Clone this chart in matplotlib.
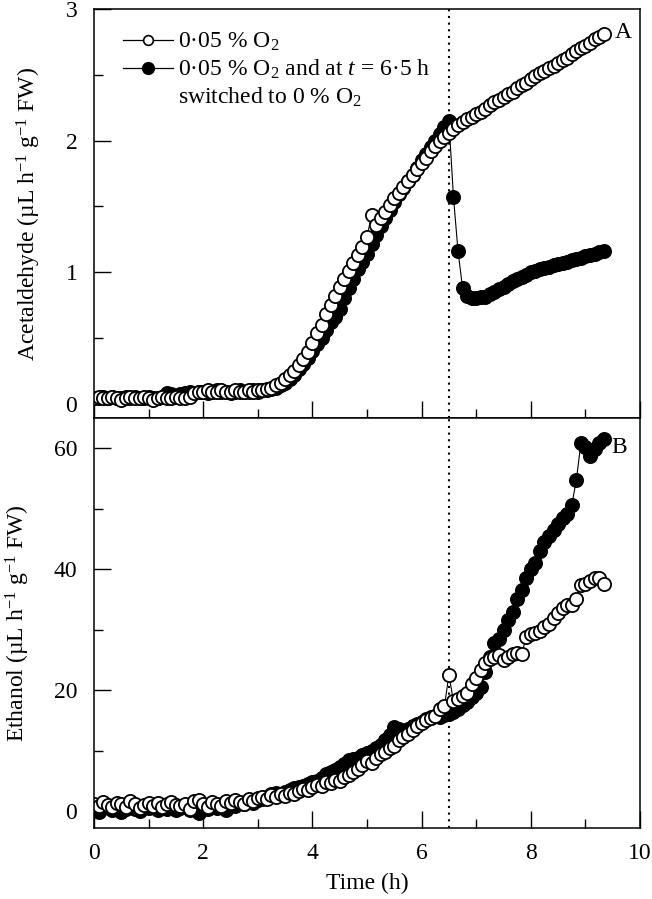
import numpy as np
import matplotlib
matplotlib.use("Agg")
import matplotlib.pyplot as plt
from matplotlib.lines import Line2D
from matplotlib.ticker import MultipleLocator

plt.rcParams['font.family'] = ['Liberation Serif', 'DejaVu Serif']
plt.rcParams['mathtext.fontset'] = 'custom'
plt.rcParams['mathtext.rm'] = 'Liberation Serif'
plt.rcParams['mathtext.it'] = 'Liberation Serif:italic'
plt.rcParams['font.size'] = 17

# readings every 5 min, 0 - 9.33 h
time_h = np.arange(113) * 5 / 60
switch_t = 6.5

# A: acetaldehyde, 0.05 % O2
acet_open = [
    0.04, 0.05, 0.04, 0.04, 0.05, 0.04, 0.03, 0.04, 0.05, 0.04, 0.04, 0.05,
    0.04, 0.03, 0.04, 0.05, 0.04, 0.04, 0.05, 0.04, 0.04, 0.05,
    0.08, 0.09, 0.09, 0.10, 0.09, 0.09, 0.10, 0.09, 0.09, 0.10, 0.09, 0.09,
    0.10, 0.09, 0.10, 0.10,
    0.11, 0.12, 0.14, 0.16, 0.19, 0.22, 0.25, 0.29, 0.34, 0.39,
    0.46, 0.54, 0.60, 0.68, 0.75, 0.82, 0.89, 0.95, 1.01, 1.07, 1.13, 1.19,
    1.27, 1.43, 1.36, 1.41, 1.46, 1.51, 1.56, 1.60, 1.65, 1.69, 1.74, 1.78,
    1.83, 1.87, 1.92, 1.96, 2.00, 2.03, 2.06,
    2.09, 2.12, 2.14, 2.16, 2.18, 2.20, 2.22, 2.24, 2.27, 2.29, 2.31, 2.33,
    2.35, 2.37, 2.40, 2.42, 2.44, 2.47, 2.49, 2.51, 2.53, 2.55, 2.57, 2.59,
    2.61, 2.63, 2.66, 2.68, 2.70, 2.72, 2.74, 2.77, 2.79, 2.81,
]
# A: acetaldehyde, switched to 0 % O2 at 6.5 h
acet_filled = [
    0.04, 0.04, 0.05, 0.04, 0.05, 0.04, 0.04, 0.05, 0.04, 0.05, 0.04, 0.04,
    0.05, 0.04, 0.04, 0.05, 0.08, 0.07,
    0.06, 0.07, 0.08, 0.09, 0.08, 0.09, 0.09, 0.08, 0.09, 0.10, 0.09, 0.09,
    0.08, 0.09, 0.10, 0.09, 0.09, 0.10, 0.09, 0.10,
    0.10, 0.11, 0.12, 0.14, 0.16, 0.19, 0.22, 0.26, 0.30, 0.35,
    0.40, 0.45, 0.50, 0.56, 0.62, 0.66, 0.72, 0.80, 0.88, 0.95, 1.02, 1.08,
    1.14, 1.21, 1.28, 1.35, 1.41, 1.47, 1.53, 1.59, 1.64, 1.69, 1.74, 1.79,
    1.85, 1.90, 1.95, 2.00, 2.05, 2.10, 2.15,
    1.57, 1.16, 0.88, 0.82, 0.80, 0.80, 0.81, 0.81, 0.83, 0.85, 0.87, 0.89,
    0.91, 0.93, 0.95, 0.96, 0.98, 1.00, 1.01, 1.02, 1.03, 1.04, 1.05, 1.06,
    1.07, 1.08, 1.09, 1.10, 1.11, 1.12, 1.13, 1.14, 1.15, 1.16,
]

# B: ethanol, 0.05 % O2
eth_open = [
    1.2, 0.8, 1.5, 1.0, 0.6, 1.3, 1.1, 0.7, 1.6, 1.2, 0.5, 1.0, 1.4, 0.9,
    1.3, 0.6, 1.1, 1.5, 1.0, 0.8, 1.2, 0.4, 1.7, 1.9, 1.1, 0.7, 1.5, 1.2,
    0.9, 1.6, 1.3, 1.8, 1.5, 1.2, 2.0, 1.7, 2.1,
    2.3, 2.0, 2.6, 2.4, 2.8, 2.5, 3.0, 2.8, 3.3, 3.6, 3.5, 4.0, 4.3, 4.1,
    4.8, 4.6, 5.2, 5.0, 5.6, 6.0, 6.5, 7.0, 7.6, 8.2, 8.0, 8.8, 9.5, 9.8,
    10.4, 10.8, 11.8, 12.3, 12.8, 13.4, 14.0, 14.6, 15.0, 15.4, 15.8, 16.8,
    17.3, 22.5,
    18.2, 18.5, 19.0, 19.5, 21.0, 22.0, 23.3, 24.5, 25.2, 25.5, 25.8, 25.0,
    25.5, 26.0, 26.2, 26.0, 28.8, 29.2, 29.5, 29.8, 30.5, 31.0, 32.0, 32.8,
    33.5, 34.0, 34.0, 35.0, 37.4, 37.5, 38.0, 38.5, 38.6, 37.6,
]
# B: ethanol, switched to 0 % O2 at 6.5 h
eth_filled = [
    0.3, -0.2, 0.5, 0.8, 0.2, 0.6, -0.1, 0.4, 0.9, 0.3, 0.0, 0.7, 0.5, 1.0,
    0.2, 0.6, 0.4, 0.9, 0.1, 0.5, 0.8, 0.2, 0.6, -0.3, 0.4, 0.3, 0.9, 0.5,
    0.7, 0.2, 1.0, 0.8, 1.4, 1.1, 1.6, 1.3, 1.8,
    2.0, 2.4, 2.8, 3.0, 2.7, 3.2, 3.4, 3.8, 4.0, 4.2, 4.4, 4.8, 5.0, 5.5,
    6.2, 6.4, 6.8, 7.3, 7.8, 8.4, 8.6, 8.8, 9.3, 9.6, 10.0, 10.4, 11.0, 11.8,
    12.6, 13.9, 13.5, 13.2, 13.6, 14.0, 14.4, 14.8, 15.2, 15.5, 15.8, 15.6,
    15.9, 16.0,
    16.3, 16.8, 17.5, 18.0, 18.8, 19.5, 20.5, 23.0, 25.5, 27.8, 28.5, 30.0,
    31.6, 33.0, 35.0, 36.5, 38.5, 40.0, 41.0, 43.0, 44.5, 45.5, 46.5, 47.5,
    48.5, 49.2, 50.6, 54.7, 60.8, 60.2, 58.8, 59.8, 60.8, 61.5,
]

open_style = dict(color='black', lw=0.8, marker='o', ms=9.5, mfc='white',
                  mec='black', mew=1.3)
filled_style = dict(color='black', lw=0.8, marker='o', ms=9.5, mfc='black',
                    mec='black', mew=1.3)

fig = plt.figure(figsize=(6.52, 8.99), dpi=100)
ax1 = fig.add_axes([0.1442, 0.535, 0.8374, 0.455])
ax2 = fig.add_axes([0.1442, 0.079, 0.8374, 0.456])

ax1.plot(time_h, acet_filled, **filled_style)
ax1.plot(time_h, acet_open, **open_style)
ax2.plot(time_h, eth_filled, **filled_style)
ax2.plot(time_h, eth_open, **open_style)

for ax in (ax1, ax2):
    ax.axvline(switch_t, color='black', lw=1.5, ls=(0, (1, 2.2)), zorder=0)
    ax.set_xlim(0, 10)
    ax.xaxis.set_major_locator(MultipleLocator(2))
    ax.xaxis.set_minor_locator(MultipleLocator(1))
    ax.tick_params(which='both', direction='in', width=1, top=False, right=False)
    ax.tick_params(which='major', length=12)
    ax.tick_params(which='minor', length=6.5)
    ax.tick_params(axis='x', pad=11)
    ax.tick_params(axis='y', pad=12)
    for s in ax.spines.values():
        s.set_linewidth(1.1)

ax1.set_ylim(-0.11, 3.0)
ax1.yaxis.set_major_locator(MultipleLocator(1))
ax1.yaxis.set_minor_locator(MultipleLocator(0.5))
ax1.tick_params(axis='x', labelbottom=False)
ax1.set_ylabel('Acetaldehyde (µL h$^{-1}$ g$^{-1}$ FW)', labelpad=16)
ax1.text(9.69, 2.82, 'A', ha='center', va='center')

ax2.set_ylim(-2.8, 65)
ax2.yaxis.set_major_locator(MultipleLocator(20))
ax2.yaxis.set_minor_locator(MultipleLocator(10))
ax2.set_ylabel('Ethanol (µL h$^{-1}$ g$^{-1}$ FW)', labelpad=16)
ax2.set_xlabel('Time (h)', labelpad=6)
ax2.text(9.62, 60.2, 'B', ha='center', va='center')

# legend: third row is the wrapped text of the second entry
h_open = Line2D([], [], color='black', lw=0.9, marker='o', ms=7, mfc='white',
                mec='black', mew=1.2)
h_filled = Line2D([], [], color='black', lw=0.9, marker='o', ms=8.5,
                  mfc='black', mec='black')
h_blank = Line2D([], [], linestyle='none', marker='none')
ax1.legend([h_open, h_filled, h_blank],
           ['0·05 % O$_2$', '0·05 % O$_2$ and at $t$ = 6·5 h',
            'switched to 0 % O$_2$'],
           loc='upper left', bbox_to_anchor=(0.053, 0.946), frameon=False,
           borderpad=0, borderaxespad=0, handlelength=2.1, handletextpad=0.25,
           labelspacing=0.2)

fig.savefig('out.png', dpi=100)
